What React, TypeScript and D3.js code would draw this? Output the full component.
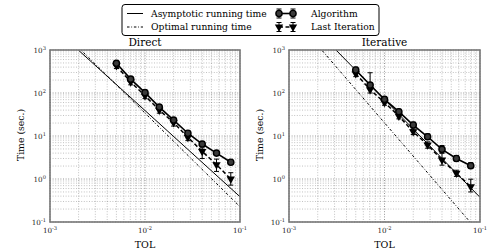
import React from 'react';
import * as d3 from 'd3';

// ---------- data ----------
const TOL = [0.005, 0.00707, 0.01, 0.01414, 0.02, 0.02828, 0.04, 0.05657, 0.08];

const directAlgorithm = [490, 210, 102, 47, 23.5, 11.6, 6.5, 4.0, 2.45];
const directAlgorithmLow = [430, 185, 90, 41, 20.5, 10.2, 5.7, 3.5, 2.2];
const directAlgorithmHigh = [550, 235, 115, 52, 26.5, 13, 7.3, 4.5, 2.75];
const directLast = [430, 180, 86, 40, 20.5, 9.3, 4.4, 2.15, 1.0];
const directLastLow = [370, 155, 74, 34, 17, 7.8, 3.0, 1.5, 0.72];
const directLastHigh = [500, 210, 100, 46, 24, 11, 5.3, 2.9, 1.4];

const iterAlgorithm = [343, 153, 71, 36.7, 18, 9.6, 4.9, 3.0, 2.04];
const iterAlgorithmLow = [300, 125, 62, 32, 15.5, 8.3, 4.1, 2.6, 1.75];
const iterAlgorithmHigh = [400, 296, 82, 42, 21, 11.2, 6.0, 3.5, 2.4];
const iterLast = [280, 120, 60, 29, 12.6, 6.2, 2.77, 1.36, 0.66];
const iterLastLow = [240, 100, 52, 25, 10.8, 5.2, 2.1, 1.15, 0.5];
const iterLastHigh = [320, 140, 70, 34, 14.5, 7.3, 3.96, 1.6, 0.99];

const directAsymTol = [0.002, 0.1];
const directAsym = [985, 0.387];
const directOptTol = [0.002, 0.1];
const directOpt = [1133, 0.227];
const iterAsymTol = [0.003, 0.1];
const iterAsym = [1081, 0.375];
const iterOptTol = [0.002, 0.1];
const iterOpt = [1276, 0.054];

const xTickExps = [-3, -2, -1];
const yTickExps = [-1, 0, 1, 2, 3];

const FONT = '"DejaVu Serif", serif';
const DASHDOT = '2.5,1.8,0.8,1.8';

type PanelProps = {
  id: string;
  title: string;
  x0: number;
  x1: number;
  alg: number[]; algLo: number[]; algHi: number[];
  last: number[]; lastLo: number[]; lastHi: number[];
  asymTol: number[]; asym: number[];
  optTol: number[]; opt: number[];
};

const Y0 = 50;
const Y1 = 222;
const MR = 3.1;
const TRI = 30;
const MFILL = '#3a3a3a';

function Pow10({ x, y, exp, anchor }: { x: number; y: number; exp: number; anchor: string }) {
  return (
    <text x={x} y={y} textAnchor={anchor} style={{ fontFamily: FONT }} fontSize={7.2} fill="#222">
      10
      <tspan dy={-3.2} fontSize={5.2}>{exp}</tspan>
    </text>
  );
}

function Panel(p: PanelProps) {
  const x = d3.scaleLog().domain([1e-3, 1e-1]).range([p.x0, p.x1]);
  const y = d3.scaleLog().domain([1e-1, 1e3]).range([Y1, Y0]);
  const xt = x.ticks();
  const yt = y.ticks();
  const isMajor = (v: number) => Math.abs(Math.log10(v) - Math.round(Math.log10(v))) < 1e-6;
  const line = d3.line<[number, number]>().x(d => x(d[0])).y(d => y(d[1]));
  const algPts = TOL.map((t, i) => [t, p.alg[i]] as [number, number]);
  const lastPts = TOL.map((t, i) => [t, p.last[i]] as [number, number]);
  const asymPts = p.asymTol.map((t, i) => [t, p.asym[i]] as [number, number]);
  const optPts = p.optTol.map((t, i) => [t, p.opt[i]] as [number, number]);
  const cx = (p.x0 + p.x1) / 2;
  const tri = d3.symbol().type(d3.symbolTriangle).size(TRI)();
  const cap = 2.5;
  return (
    <g>
      <defs>
        <clipPath id={p.id}>
          <rect x={p.x0} y={Y0} width={p.x1 - p.x0} height={Y1 - Y0} />
        </clipPath>
      </defs>
      <rect x={p.x0} y={Y0} width={p.x1 - p.x0} height={Y1 - Y0} fill="white" />
      {xt.map((v, i) => (
        <line key={'gx' + i} x1={x(v)} x2={x(v)} y1={Y0} y2={Y1}
          stroke="#000" strokeOpacity={isMajor(v) ? 0.6 : 0.35} strokeWidth={0.7} strokeDasharray="1,1.6" />
      ))}
      {yt.map((v, i) => (
        <line key={'gy' + i} x1={p.x0} x2={p.x1} y1={y(v)} y2={y(v)}
          stroke="#000" strokeOpacity={isMajor(v) ? 0.6 : 0.35} strokeWidth={0.7} strokeDasharray="1,1.6" />
      ))}
      <g clipPath={`url(#${p.id})`}>
        <path d={line(asymPts)!} fill="none" stroke="#000" strokeWidth={1} />
        <path d={line(optPts)!} fill="none" stroke="#000" strokeWidth={1} strokeDasharray={DASHDOT} />
        <path d={line(lastPts)!} fill="none" stroke="#000" strokeWidth={1.5} strokeDasharray="4,2.5" />
        <path d={line(algPts)!} fill="none" stroke="#000" strokeWidth={1.6} />
        {TOL.map((t, i) => (
          <g key={'ea' + i} stroke="#000" strokeWidth={1}>
            <line x1={x(t)} x2={x(t)} y1={y(p.algLo[i])} y2={y(p.algHi[i])} />
            <line x1={x(t) - cap} x2={x(t) + cap} y1={y(p.algLo[i])} y2={y(p.algLo[i])} />
            <line x1={x(t) - cap} x2={x(t) + cap} y1={y(p.algHi[i])} y2={y(p.algHi[i])} />
          </g>
        ))}
        {TOL.map((t, i) => (
          <g key={'el' + i} stroke="#000" strokeWidth={1}>
            <line x1={x(t)} x2={x(t)} y1={y(p.lastLo[i])} y2={y(p.lastHi[i])} />
            <line x1={x(t) - cap} x2={x(t) + cap} y1={y(p.lastLo[i])} y2={y(p.lastLo[i])} />
            <line x1={x(t) - cap} x2={x(t) + cap} y1={y(p.lastHi[i])} y2={y(p.lastHi[i])} />
          </g>
        ))}
        {lastPts.map((d, i) => (
          <path key={'ml' + i} d={tri!} transform={`translate(${x(d[0])},${y(d[1])}) rotate(180)`} fill="#000" />
        ))}
        {algPts.map((d, i) => (
          <circle key={'ma' + i} cx={x(d[0])} cy={y(d[1])} r={MR} fill={MFILL} stroke="#000" strokeWidth={1.4} />
        ))}
      </g>
      <rect x={p.x0} y={Y0} width={p.x1 - p.x0} height={Y1 - Y0} fill="none" stroke="#777" strokeWidth={1.6} />
      {yTickExps.map(e => (
        <Pow10 key={'yl' + e} x={p.x0 - 4} y={y(Math.pow(10, e)) + 3} exp={e} anchor="end" />
      ))}
      {xTickExps.map(e => (
        <Pow10 key={'xl' + e} x={x(Math.pow(10, e))} y={Y1 + 11} exp={e} anchor="middle" />
      ))}
      <text x={cx} y={Y0 - 4} textAnchor="middle" style={{ fontFamily: FONT }} fontSize={10.5} fill="#000">{p.title}</text>
      <text x={cx} y={Y1 + 26} textAnchor="middle" style={{ fontFamily: FONT }} fontSize={9.5} fill="#000">TOL</text>
      <text transform={`translate(${p.x0 - 26},${(Y0 + Y1) / 2 - 1}) rotate(-90)`} textAnchor="middle"
        style={{ fontFamily: FONT }} fontSize={9.3} fill="#000">Time (sec.)</text>
    </g>
  );
}

function Legend() {
  const tri = d3.symbol().type(d3.symbolTriangle).size(TRI)();
  const r1 = 13.5;
  const r2 = 27;
  const a = 279;
  const b = 293;
  const cap = 2.5;
  const eb = (xx: number, yy: number) => (
    <g stroke="#000" strokeWidth={1}>
      <line x1={xx} x2={xx} y1={yy - 4.5} y2={yy + 4.5} />
      <line x1={xx - cap} x2={xx + cap} y1={yy - 4.5} y2={yy - 4.5} />
      <line x1={xx - cap} x2={xx + cap} y1={yy + 4.5} y2={yy + 4.5} />
    </g>
  );
  const fs = 9.2;
  return (
    <g style={{ fontFamily: FONT }}>
      <rect x={122} y={4.5} width={257} height={31} rx={3} fill="white" stroke="#000" strokeWidth={1} />
      <line x1={127} x2={143} y1={r1} y2={r1} stroke="#000" strokeWidth={1} />
      <text x={151} y={r1 + 3.3} fontSize={fs}>Asymptotic running time</text>
      <line x1={127} x2={143} y1={r2} y2={r2} stroke="#000" strokeWidth={1} strokeDasharray={DASHDOT} />
      <text x={151} y={r2 + 3.3} fontSize={fs}>Optimal running time</text>
      <line x1={a} x2={b} y1={r1} y2={r1} stroke="#000" strokeWidth={1.6} />
      {eb(a, r1)}{eb(b, r1)}
      <circle cx={a} cy={r1} r={MR} fill={MFILL} stroke="#000" strokeWidth={1.4} />
      <circle cx={b} cy={r1} r={MR} fill={MFILL} stroke="#000" strokeWidth={1.4} />
      <text x={311} y={r1 + 3.3} fontSize={fs}>Algorithm</text>
      <line x1={a} x2={b} y1={r2} y2={r2} stroke="#000" strokeWidth={1.5} strokeDasharray="4,2.5" />
      {eb(a, r2)}{eb(b, r2)}
      <path d={tri!} transform={`translate(${a},${r2}) rotate(180)`} fill="#000" />
      <path d={tri!} transform={`translate(${b},${r2}) rotate(180)`} fill="#000" />
      <text x={311} y={r2 + 3.3} fontSize={fs}>Last Iteration</text>
    </g>
  );
}

export default function App() {
  return (
    <svg width={500} height={250} style={{ position: 'absolute', left: 0, top: 0, background: 'white' }}>
      <rect width={500} height={250} fill="white" />
      <Panel id="clipDirect" title="Direct" x0={50} x1={240}
        alg={directAlgorithm} algLo={directAlgorithmLow} algHi={directAlgorithmHigh}
        last={directLast} lastLo={directLastLow} lastHi={directLastHigh}
        asymTol={directAsymTol} asym={directAsym} optTol={directOptTol} opt={directOpt} />
      <Panel id="clipIter" title="Iterative" x0={289} x1={480}
        alg={iterAlgorithm} algLo={iterAlgorithmLow} algHi={iterAlgorithmHigh}
        last={iterLast} lastLo={iterLastLow} lastHi={iterLastHigh}
        asymTol={iterAsymTol} asym={iterAsym} optTol={iterOptTol} opt={iterOpt} />
      <Legend />
    </svg>
  );
}
